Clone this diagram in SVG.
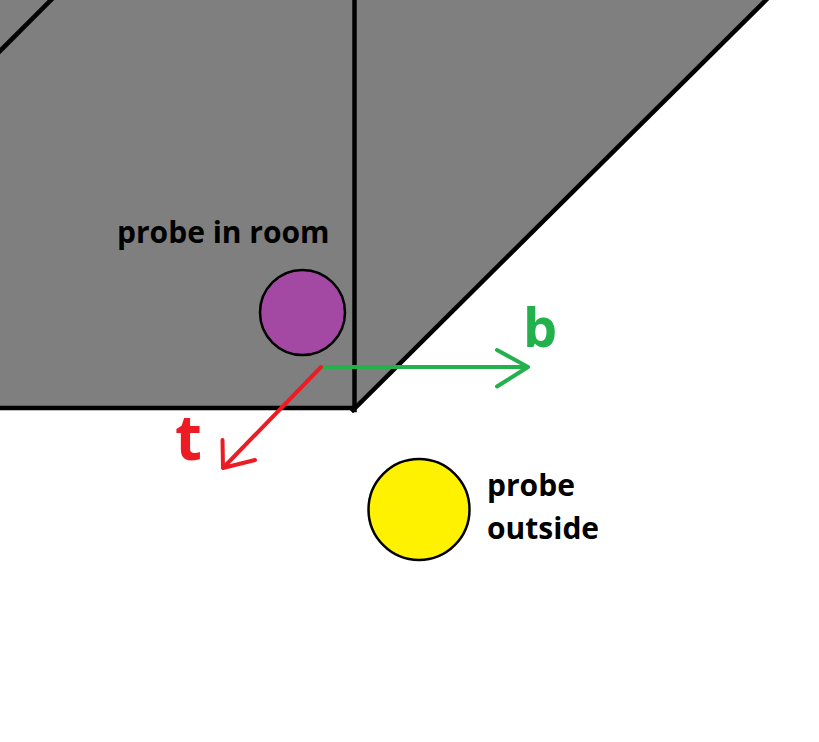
<svg xmlns="http://www.w3.org/2000/svg" width="819" height="742" viewBox="0 0 819 742">
<style>
.wall{stroke:#000;stroke-width:4.5;fill:none;stroke-linecap:square}
.lbl{font-family:"Open Sans","Liberation Sans",sans-serif;font-weight:bold;font-size:30px;fill:#000}
.probe{stroke:#000;stroke-width:2.5}
.vec{fill:none;stroke-width:4;stroke-linecap:round;stroke-linejoin:round}
.vlbl{font-family:"Open Sans","Liberation Sans",sans-serif;font-weight:bold}
</style>
<rect width="819" height="742" fill="#fff"/>
<g id="room">
<polygon points="0,0 768,0 354,410 0,410" fill="#7f7f7f"/>
<line class="wall" x1="0" y1="51" x2="52" y2="-1"/>
<line class="wall" x1="354.5" y1="-2" x2="354.5" y2="410"/>
<line class="wall" x1="-2" y1="408" x2="354" y2="408"/>
<line class="wall" x1="353" y1="410" x2="768" y2="-2"/>
</g>
<g id="probe-in-room">
<circle class="probe" cx="302.5" cy="312.5" r="42.5" fill="#a349a4"/>
<text class="lbl" x="117" y="243">probe in room</text>
</g>
<g id="probe-outside">
<circle class="probe" cx="419" cy="509.5" r="50.5" fill="#fff200"/>
<text class="lbl" x="487" y="496">probe</text>
<text class="lbl" x="487" y="539">outside</text>
</g>
<g id="connectors">
<g id="vector-b">
<path class="vec" stroke="#22b14c" d="M322,367 H528 M497,350 L528,367 L497,386.5"/>
<text class="vlbl" x="523" y="347" font-size="54" fill="#22b14c">b</text>
</g>
<g id="vector-t">
<path class="vec" stroke="#ed1c24" d="M321,367 L223,468 M222.5,440 L223,468 L255,460"/>
<text class="vlbl" x="175" y="460" font-size="62" fill="#ed1c24">t</text>
</g>
</g>
</svg>
